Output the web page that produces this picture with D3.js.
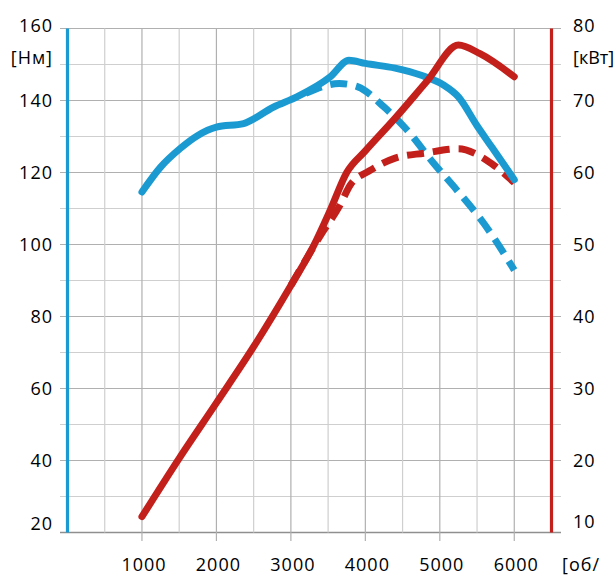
<!DOCTYPE html>
<html>
<head>
<meta charset="utf-8">
<script src="https://cdn.jsdelivr.net/npm/d3@7"></script>
<style>
  body { margin: 0; background: #fff; }
  text { font-family: "Open Sans", sans-serif; font-size: 18px; fill: #000; letter-spacing: 1px; }
</style>
</head>
<body>
<div id="chart"></div>
<script>
// rpm ticks and axis labels
var rpmTicks = [1000, 2000, 3000, 4000, 5000, 6000];
var nmTicks = [20, 40, 60, 80, 100, 120, 140, 160];
var kwTicks = [10, 20, 30, 40, 50, 60, 70, 80];

// torque, full (solid blue)
var torqueRpm = [1000, 1250, 1515, 1750, 2000, 2365, 2770, 3080, 3530, 3780, 4000, 4400, 4750, 5050, 5250, 5500, 5700, 6000];
var torqueNm  = [114.6, 121.5, 126.7, 130.3, 132.6, 133.6, 138.2, 141, 146.6, 151.2, 150.3, 149, 147, 144.3, 141, 133, 127, 118];

// torque, dashed blue
var torque2Rpm = [3200, 3650, 3900, 4250, 4560, 4920, 5230, 5590, 6000];
var torque2Nm  = [142, 144.7, 143.8, 138.2, 131.8, 122.5, 115.1, 105.9, 92.9];

// power, full (solid red)
var powerRpm = [1000, 1500, 2000, 2500, 3000, 3300, 3530, 3750, 4000, 4380, 4830, 5250, 5540, 6000];
var powerKw  = [12.2, 20.3, 28, 35.8, 44.3, 49.7, 54.8, 60, 63, 67.3, 72.7, 77.7, 76.5, 73.3];

// power, dashed red
var power2Rpm = [3000, 3400, 3650, 3800, 4050, 4400, 4800, 5250, 5500, 5700, 6000];
var power2Kw  = [44.3, 51.3, 55.3, 58.3, 60.2, 62, 62.7, 63.3, 62.5, 61.2, 58.6];

var W = 614, H = 576;
var blue = "#1b9ad1", red = "#c3201c";

var x = d3.scaleLinear().domain([0, 6500]).range([67.5, 551.5]);
var yL = d3.scaleLinear().domain([20, 160]).range([532.5, 28.5]);
var yR = d3.scaleLinear().domain([10, 80]).range([532.5, 28.5]);

var svg = d3.select("#chart").append("svg")
    .attr("width", W)
    .attr("height", H);

// grid
var grid = svg.append("g");
var hLines = d3.range(20, 161, 10);
grid.selectAll("line.h")
    .data(hLines)
    .enter()
    .append("line")
    .attr("x1", 60).attr("x2", 561)
    .attr("y1", function(d){ return yL(d) }).attr("y2", function(d){ return yL(d) })
    .attr("stroke", function(d){ return d == 20 ? "#8f8f8f" : (d % 20 == 0 ? "#b0b0b0" : "#cfcfcf") })
    .attr("stroke-width", function(d){ return d == 20 ? 1.5 : 1.2 });

var vLines = d3.range(500, 6001, 500);
grid.selectAll("line.v")
    .data(vLines)
    .enter()
    .append("line")
    .attr("x1", function(d){ return x(d) }).attr("x2", function(d){ return x(d) })
    .attr("y1", yL(160))
    .attr("y2", function(d){ return d % 1000 == 0 ? 541 : yL(20) })
    .attr("stroke", function(d){ return d % 1000 == 0 ? "#b0b0b0" : "#cfcfcf" })
    .attr("stroke-width", 1.2);

// axis lines
svg.append("line")
    .attr("x1", x(0)).attr("x2", x(0))
    .attr("y1", yL(160)).attr("y2", yL(20))
    .attr("stroke", blue).attr("stroke-width", 3.2);
svg.append("line")
    .attr("x1", x(6500)).attr("x2", x(6500))
    .attr("y1", yL(160)).attr("y2", yL(20))
    .attr("stroke", red).attr("stroke-width", 3.2);

// tick labels
svg.append("g").selectAll("text")
    .data(nmTicks)
    .enter()
    .append("text")
    .attr("x", 53)
    .attr("y", function(d){ return yL(d) + (d == 20 ? -9 : (d == 160 ? -3 : 0)) })
    .attr("dy", "0.36em")
    .attr("text-anchor", "end")
    .text(function(d){ return d });

svg.append("g").selectAll("text")
    .data(kwTicks)
    .enter()
    .append("text")
    .attr("x", 573)
    .attr("y", function(d){ return yR(d) + (d == 10 ? -11 : (d == 80 ? -3 : 0)) })
    .attr("dy", "0.36em")
    .text(function(d){ return d });

svg.append("g").selectAll("text")
    .data(rpmTicks)
    .enter()
    .append("text")
    .attr("x", function(d){ return x(d) + 2 })
    .attr("y", 571)
    .attr("text-anchor", "middle")
    .text(function(d){ return d });

svg.append("text").attr("x", 53).attr("y", 58).attr("dy", "0.36em")
    .attr("text-anchor", "end").text("[Нм]");
svg.append("text").attr("x", 573).attr("y", 58).attr("dy", "0.36em")
    .style("letter-spacing", "0px").text("[кВт]");
svg.append("text").attr("x", 562).attr("y", 571).text("[об/");

// curves
var lineL = d3.line()
    .x(function(d){ return x(d[0]) })
    .y(function(d){ return yL(d[1]) })
    .curve(d3.curveMonotoneX);
var lineR = d3.line()
    .x(function(d){ return x(d[0]) })
    .y(function(d){ return yR(d[1]) })
    .curve(d3.curveMonotoneX);

function pairs(a, b){ return a.map(function(v, i){ return [v, b[i]] }) }

var curves = svg.append("g").attr("fill", "none");

curves.append("path")
    .attr("d", lineL(pairs(torque2Rpm, torque2Nm)))
    .attr("stroke", blue).attr("stroke-width", 7)
    .attr("stroke-dasharray", "17,9");
curves.append("path")
    .attr("d", lineR(pairs(power2Rpm, power2Kw)))
    .attr("stroke", red).attr("stroke-width", 7)
    .attr("stroke-dasharray", "17,9");
curves.append("path")
    .attr("d", lineL(pairs(torqueRpm, torqueNm)))
    .attr("stroke", blue).attr("stroke-width", 7)
    .attr("stroke-linecap", "round").attr("stroke-linejoin", "round");
curves.append("path")
    .attr("d", lineR(pairs(powerRpm, powerKw)))
    .attr("stroke", red).attr("stroke-width", 7)
    .attr("stroke-linecap", "round").attr("stroke-linejoin", "round");
</script>
</body>
</html>
